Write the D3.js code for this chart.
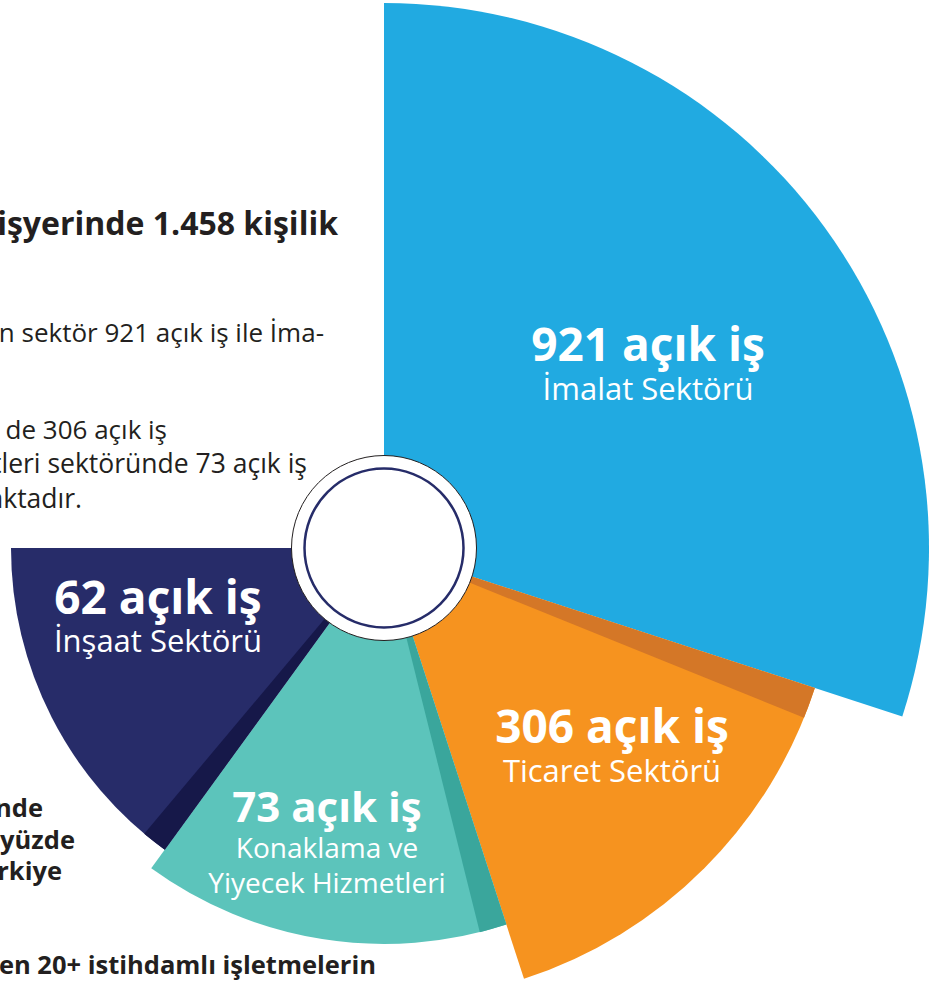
<!DOCTYPE html>
<html>
<head>
<meta charset="utf-8">
<script src="https://cdn.jsdelivr.net/npm/d3@7"></script>
<style>
  html, body { margin: 0; padding: 0; background: #ffffff; overflow: hidden; }
  svg { display: block; }
</style>
</head>
<body>
<svg id="chart" width="940" height="989"></svg>
<script>
// ---- data ----
const categories = ["İmalat Sektörü", "Ticaret Sektörü", "Konaklama ve Yiyecek Hizmetleri", "İnşaat Sektörü"];
const values = [921, 306, 73, 62];
const valueLabels = ["921 açık iş", "306 açık iş", "73 açık iş", "62 açık iş"];
const subLabels = [["İmalat Sektörü"], ["Ticaret Sektörü"], ["Konaklama ve", "Yiyecek Hizmetleri"], ["İnşaat Sektörü"]];

// ---- style / layout ----
const colors = ["#21aae1", "#f6931f", "#5cc4bb", "#272c69"];
const darkColors = [null, "#d47727", "#3aa69c", "#161849"];
const cx = 384, cy = 548;

const svg = d3.select("#chart");

// background text (clipped body copy)
const ink = "#231f20";
const bg = svg.append("g").attr("font-family", "'Open Sans', sans-serif").attr("fill", ink);
const bgLines = [
  {t: "işyerinde 1.458 kişilik", x: 338, y: 235, s: 32, w: 700},
  {t: "n sektör 921 açık iş ile İma-", x: 324, y: 342, s: 26, w: 400},
  {t: "de 306 açık iş", x: 167, y: 439, s: 26, w: 400},
  {t: "tleri sektöründe 73 açık iş", x: 307, y: 473, s: 26.5, w: 400},
  {t: "aktadır.", x: 82, y: 508, s: 26.5, w: 400},
  {t: "nde", x: 43, y: 817, s: 25.5, w: 700},
  {t: "yüzde", x: 75, y: 849, s: 25.5, w: 700},
  {t: "rkiye", x: 62, y: 880, s: 25.5, w: 700},
  {t: "en 20+ istihdamlı işletmelerin", x: 376, y: 974, s: 25.5, w: 700}
];
bg.selectAll("text").data(bgLines).join("text")
  .attr("x", d => d.x).attr("y", d => d.y)
  .attr("font-size", d => d.s).attr("font-weight", d => d.w)
  .attr("text-anchor", "end")
  .text(d => d.t);

// ---- polar area layout ----
const data = categories.map((c, i) => ({category: c, value: values[i], i}));
const rScale = d3.scaleLinear()
  .domain([62, 73, 306, 921])
  .range([373, 396, 453, 545]);

// first sector spans twice the angle of the others, 270° sweep from 12 o'clock
const pie = d3.pie().sort(null)
  .value(d => d.i === 0 ? 2 : 1)
  .startAngle(0).endAngle(1.5 * Math.PI);
const arcs = pie(data);

const g = svg.append("g").attr("transform", `translate(${cx},${cy})`);
const arc = d3.arc().innerRadius(0);

g.selectAll("path.slice").data(arcs).join("path")
  .attr("class", "slice")
  .attr("fill", d => colors[d.data.i])
  .attr("d", d => arc.outerRadius(rScale(d.data.value))(d));

// darker leading strip on sectors after the first
const strip = 4 * Math.PI / 180;
g.selectAll("path.strip").data(arcs.filter(d => d.data.i > 0)).join("path")
  .attr("class", "strip")
  .attr("fill", d => darkColors[d.data.i])
  .attr("d", d => arc.outerRadius(rScale(d.data.value))({startAngle: d.startAngle, endAngle: d.startAngle + strip}));

// center hole
g.append("circle").attr("r", 92.5).attr("fill", "#fff").attr("stroke", "#231f20").attr("stroke-width", 1);
g.append("circle").attr("r", 79.5).attr("fill", "none").attr("stroke", "#262c69").attr("stroke-width", 2.5);

// ---- labels ----
const labelPos = [
  {x: 648, y: 361, ns: 46, ss: 31, dy: 39},
  {x: 612, y: 743, ns: 46, ss: 31, dy: 39},
  {x: 327, y: 822, ns: 42, ss: 28, dy: 36},
  {x: 158, y: 614, ns: 46, ss: 31, dy: 38}
];
const lab = svg.append("g").attr("font-family", "'Open Sans', sans-serif").attr("fill", "#fff").attr("text-anchor", "middle");
data.forEach((d, i) => {
  const p = labelPos[i];
  lab.append("text").attr("x", p.x).attr("y", p.y).attr("font-size", p.ns).attr("font-weight", 700).text(valueLabels[i]);
  subLabels[i].forEach((s, j) => {
    lab.append("text").attr("x", p.x).attr("y", p.y + p.dy + j * 35).attr("font-size", p.ss).attr("font-weight", 400).text(s);
  });
});
</script>
</body>
</html>
